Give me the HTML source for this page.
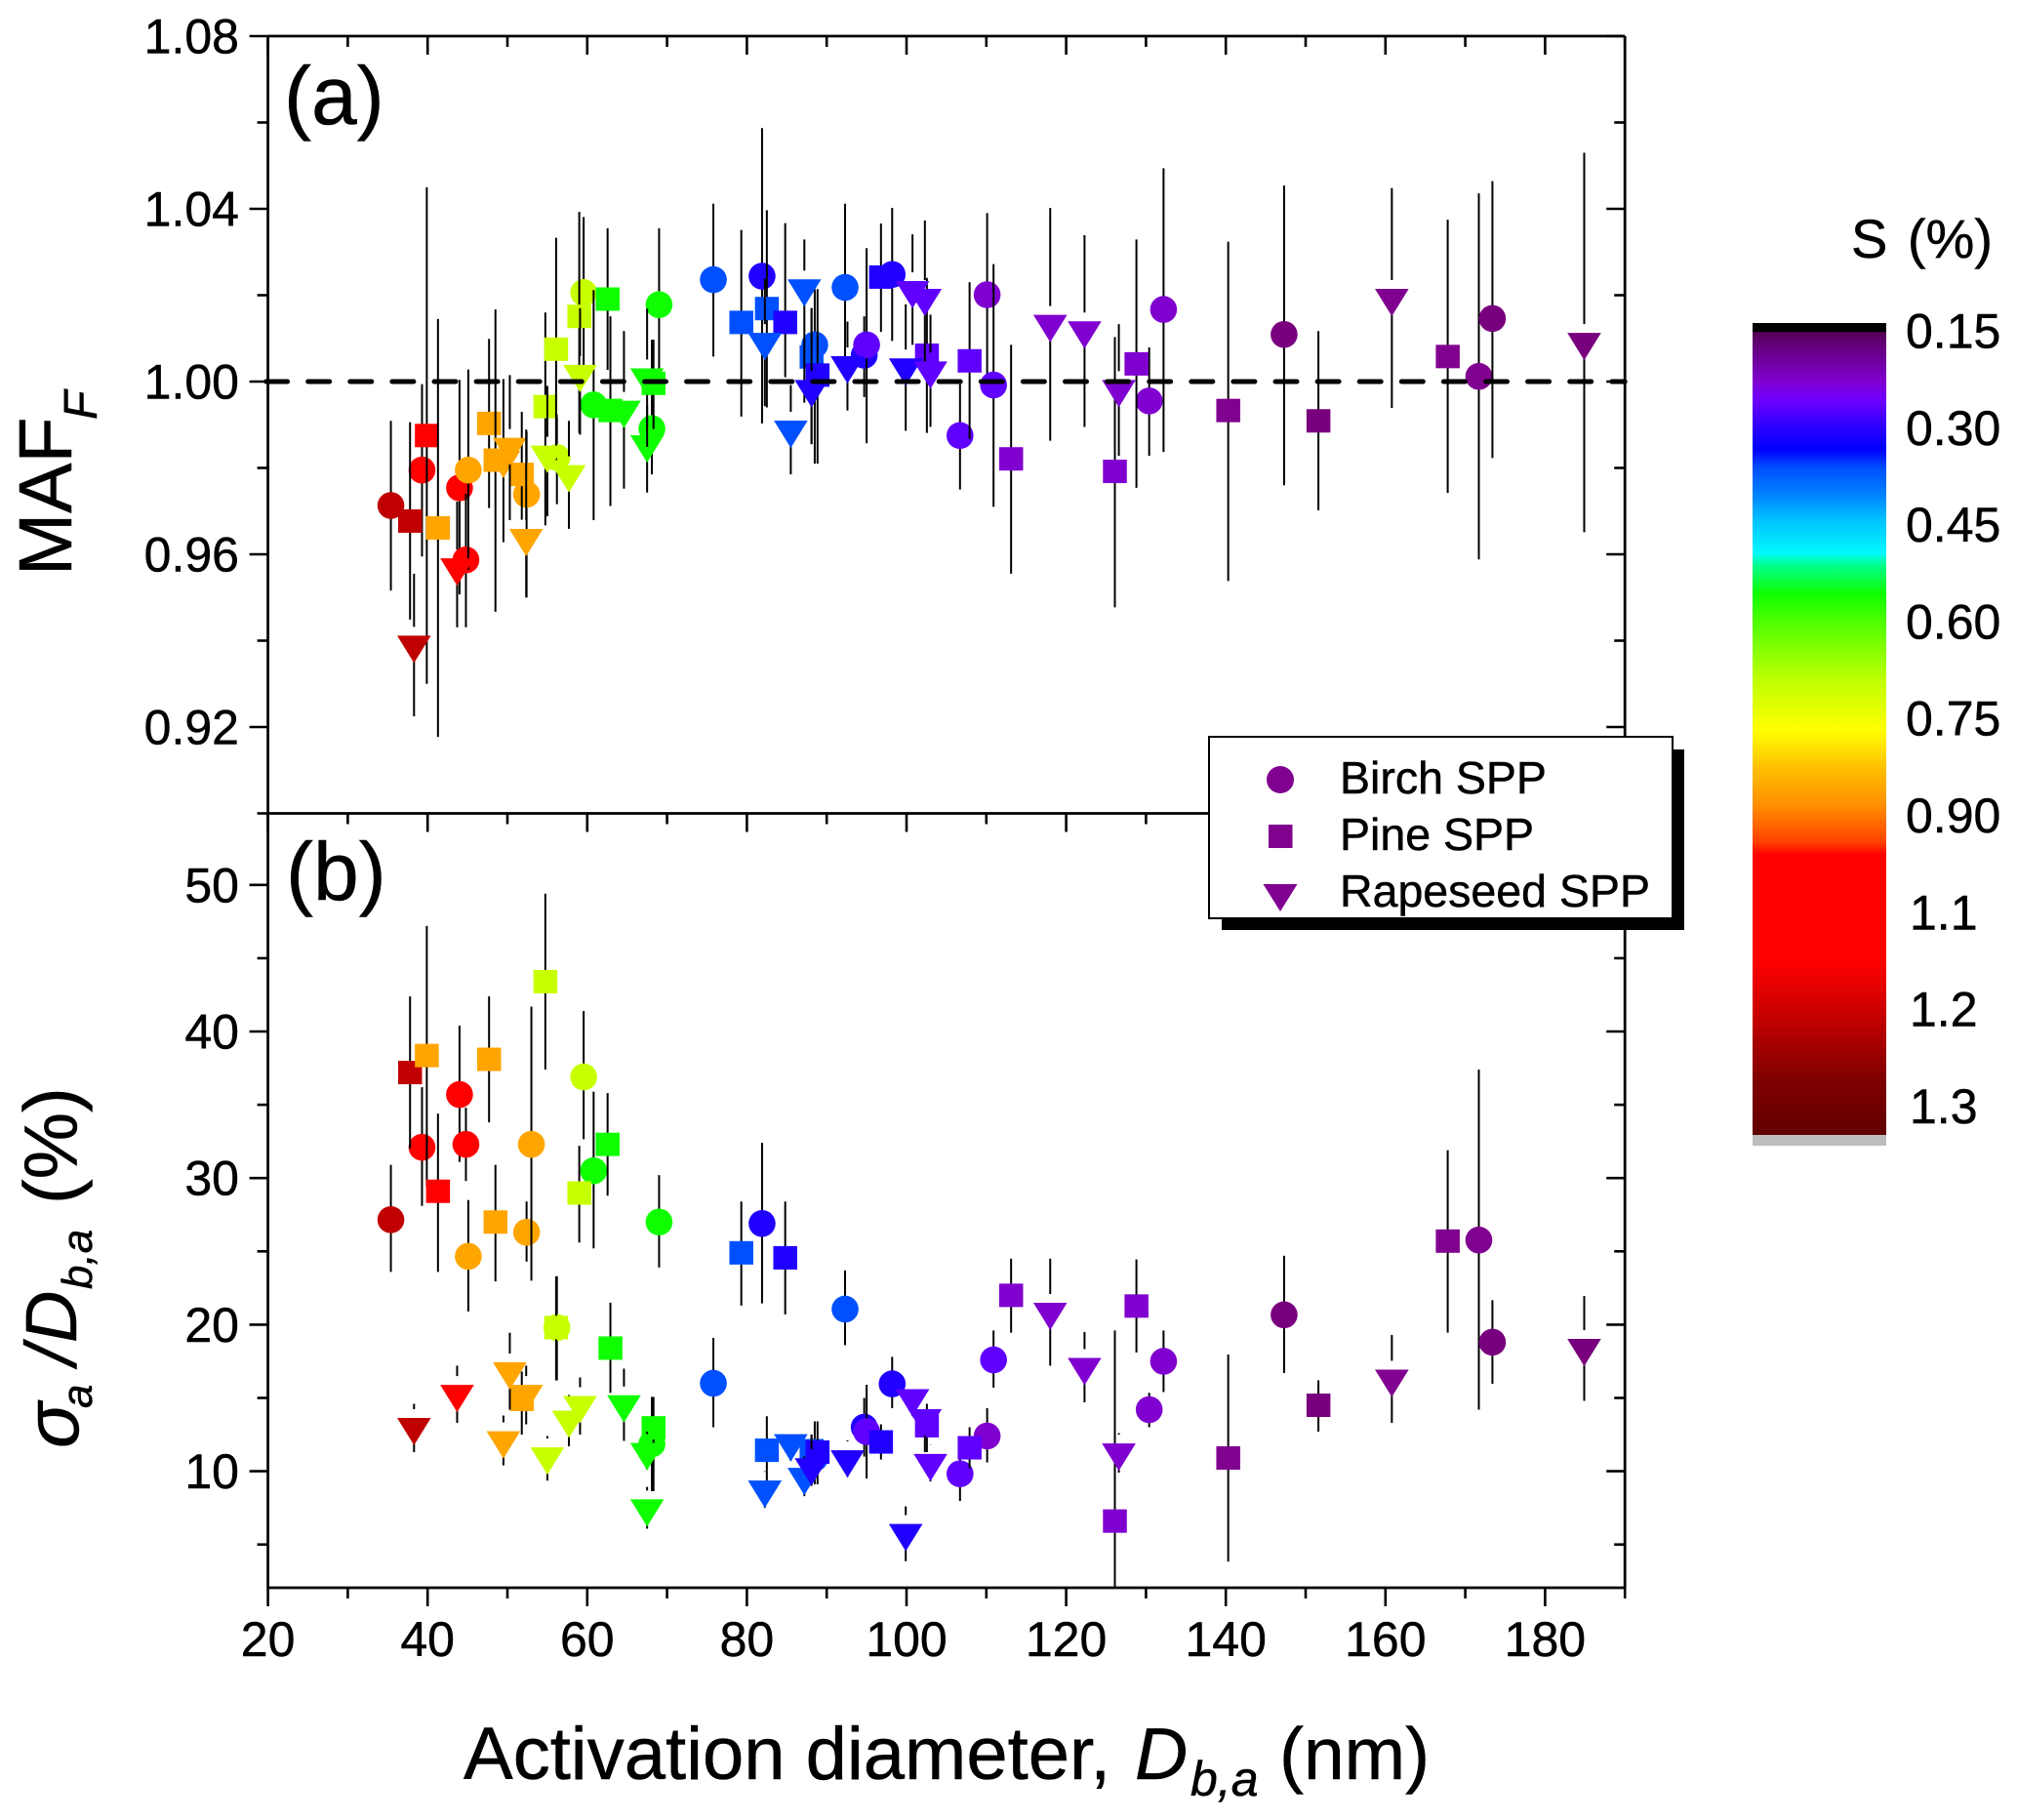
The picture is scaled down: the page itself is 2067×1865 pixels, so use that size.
<!DOCTYPE html>
<html lang="en">
<head>
<meta charset="utf-8">
<title>MAF and activation dispersion vs activation diameter</title>
<style>
html,body{margin:0;padding:0;background:#fff;}
svg{display:block;}
text{font-family:"Liberation Sans",sans-serif;fill:#000;stroke:#000;stroke-width:.5px;}
</style>
</head>
<body>
<svg id="chart" xmlns="http://www.w3.org/2000/svg" width="2067" height="1865" viewBox="0 0 2067 1865">
<defs>
<linearGradient id="cbar" x1="0" y1="0" x2="0" y2="1">
<stop offset="0" stop-color="#500050"/><stop offset=".012" stop-color="#600070"/><stop offset=".062" stop-color="#8000d0"/><stop offset=".085" stop-color="#7000ff"/><stop offset=".116" stop-color="#3000ff"/><stop offset=".147" stop-color="#0000ff"/><stop offset=".17" stop-color="#0050ff"/><stop offset=".202" stop-color="#0080ff"/><stop offset=".233" stop-color="#00c0ff"/><stop offset=".275" stop-color="#00f8ff"/><stop offset=".29" stop-color="#00ff90"/><stop offset=".326" stop-color="#10ff00"/><stop offset=".372" stop-color="#60ff00"/><stop offset=".434" stop-color="#c0ff00"/><stop offset=".496" stop-color="#ffff00"/><stop offset=".543" stop-color="#ffc000"/><stop offset=".589" stop-color="#ff9000"/><stop offset=".636" stop-color="#ff4000"/><stop offset=".651" stop-color="#ff0000"/><stop offset=".783" stop-color="#ff0000"/><stop offset=".86" stop-color="#c00000"/><stop offset=".93" stop-color="#800000"/><stop offset="1" stop-color="#600000"/>
</linearGradient>
</defs>
<g id="marks-a"></g>
<g id="marks-b"></g>
<g id="axes"></g>
<line id="refline" stroke="#000" stroke-width="5" stroke-dasharray="22 21.1" stroke-linecap="round"/>
<text x="291" y="127" font-size="84">(a)</text>
<text x="293" y="922" font-size="84">(b)</text>

<g>
<text transform="translate(73 590) rotate(-90)" font-size="77">MAF</text>
<text transform="translate(99 430) rotate(-90)" font-size="48" font-style="italic">F</text>
</g>
<g>
<text transform="translate(80 1484) rotate(-90)" font-size="78" font-style="italic">σ</text>
<text transform="translate(94 1443) rotate(-90)" font-size="44" font-style="italic">a</text>
<text transform="translate(78 1399) rotate(-90)" font-size="74" font-style="italic">/</text>
<text transform="translate(78 1376) rotate(-90)" font-size="74" font-style="italic">D</text>
<text transform="translate(94 1321) rotate(-90)" font-size="44" font-style="italic">b,a</text>
<text transform="translate(78.5 1234) rotate(-90)" font-size="77">(%)</text>
</g>
<g>
<text x="475" y="1823" font-size="76">Activation diameter,</text>
<text x="1163" y="1823" font-size="75" font-style="italic">D</text>
<text x="1220" y="1840" font-size="50" font-style="italic">b,a</text>
<text x="1311" y="1823" font-size="75">(nm)</text>
</g>

<g>
<rect x="1252" y="768" width="474" height="185" fill="#000"/>
<rect x="1239" y="755" width="475" height="186" fill="#fff" stroke="#000" stroke-width="2"/>
<g>
<circle cx="1312" cy="799" r="14" fill="#800090"/>
<text x="1373" y="813" font-size="46.5">Birch SPP</text>
</g>
<g>
<rect x="1300" y="845" width="24.5" height="24" fill="#800090"/>
<text x="1373" y="871" font-size="46.5">Pine SPP</text>
</g>
<g>
<polygon points="1294.5,906 1329.5,906 1312,934" fill="#800090"/>
<text x="1373" y="929" font-size="46.5">Rapeseed SPP</text>
</g>
</g>

<g>
<text x="1897" y="264" font-size="56" word-spacing="5">S (%)</text>
<rect x="1796" y="331" width="137" height="10" fill="#000"/>
<rect x="1796" y="340" width="137" height="823" fill="url(#cbar)"/>
<rect x="1796" y="1163" width="137" height="11" fill="#bdbdbd"/>
<g id="cbar-labels"></g>
</g>
</svg>

<script>
// ---- Tick labels ----
const xTickLabels = [20, 40, 60, 80, 100, 120, 140, 160, 180];
const xMinorTicks = [30, 50, 70, 90, 110, 130, 150, 170, 190];
const yATickLabels = ['1.08', '1.04', '1.00', '0.96', '0.92'];
const yAMinorTicks = [1.06, 1.02, 0.98, 0.94, 0.90];
const yBTickLabels = [50, 40, 30, 20, 10];
const yBMinorTicks = [45, 35, 25, 15, 5];
const colorbarLabels = ['0.15', '0.30', '0.45', '0.60', '0.75', '0.90', '1.1', '1.2', '1.3'];
const referenceValue = 1.0;

// ---- Panel (a): MAF_F ----
const aBirchX  = [35.4,39.3,44,44.8,45.1,52.4,56.2,59.55,60.8,69,68.1,75.8,81.9,88.5,92.3,94.7,95,98.2,106.7,110.1,110.9,130.4,132.2,147.3,171.7,173.4];
const aBirchY  = [.9713,.9795,.9754,.9587,.9795,.9739,.9824,1.0206,.9946,1.0178,.9891,1.0236,1.0244,1.0085,1.0218,1.0061,1.0085,1.0248,.9875,1.0201,.9992,.9955,1.0167,1.0109,1.0012,1.0146];
const aBirchHi = [.9909,.9994,1.0004,.974,1.0028,.9885,.9924,1.0381,1.0212,1.0355,1.0097,1.0412,1.0587,1.0214,1.0412,1.0151,1.0309,1.0402,.9994,1.039,1.0272,1.0079,1.0494,1.0454,1.0436,1.0464];
const aBirchLo = [.9516,.9595,.9507,.9431,.9564,.95,.9716,1.0024,.9679,1.0,.9785,1.0058,.9903,.981,1.0042,.9964,.9857,1.0094,.975,1.0012,.971,.9828,.9837,.976,.9588,.9823];
const aBirchS  = [1.2,1.1,1.1,1.1,.9,.9,.7,.7,.6,.6,.6,.4,.3,.4,.4,.3,.25,.3,.25,.2,.25,.2,.2,.16,.18,.16];

const aPineX  = [37.8,39.9,41.3,47.7,48.5,51.8,54.75,56.1,59,62.55,62.9,68.3,79.3,82.5,84.8,88.1,88.85,96.8,102.55,107.9,113.1,126.1,128.8,140.3,151.6,167.8];
const aPineY  = [.9677,.9875,.9661,.9903,.9818,.9785,.9942,1.0075,1.0151,1.0191,.9933,.9996,1.0137,1.0169,1.0137,1.0057,1.0015,1.0242,1.0061,1.0048,.9821,.9792,1.0041,.9933,.9909,1.0058];
const aPineHi = [.9906,1.045,1.0145,1.0099,1.0167,.993,1.016,1.0333,1.0393,1.0355,1.0151,1.0097,1.0351,1.0397,1.0367,1.017,1.0214,1.0366,1.024,1.023,1.0085,1.0103,1.0329,1.0324,1.0117,1.0375];
const aPineLo = [.9449,.93,.9177,.9707,.9467,.968,.9667,.9818,.9881,1.0027,.9712,.989,.9919,.994,1.001,.9855,.981,1.0115,.9881,.9867,.9555,.9477,.9754,.9538,.9702,.9742];
const aPineS  = [1.2,1.1,.9,.9,.9,.9,.7,.7,.7,.6,.6,.6,.4,.4,.3,.4,.3,.3,.25,.25,.2,.2,.2,.18,.16,.17];

const aRapeX  = [38.3,43.7,49.5,50.3,52.35,55,57.7,59.1,64.6,67.5,67.5,82.25,87.2,85.5,88.1,92.6,99.9,100.75,102.3,103,118,122.3,126.6,160.8,184.9];
const aRapeY  = [.938,.9559,.9808,.9838,.9627,.982,.9775,1.0007,.9924,.9844,.9999,1.0081,1.0205,.9878,.9972,1.0027,1.0022,1.0201,1.0183,1.0015,1.0123,1.0108,.9972,1.0183,1.0081];
const aRapeHi = [.9555,.9722,1.0006,1.0015,.9889,.999,.9909,1.017,1.0117,.9945,1.0169,1.0238,1.0329,.9992,1.017,1.0139,1.0179,1.0341,1.0373,1.0155,1.0402,1.0339,1.0133,1.0448,1.053];
const aRapeLo = [.9225,.9431,.9628,.9679,.95,.9688,.9659,.9877,.9752,.9743,.9849,.9943,.9951,.9785,.9855,.9933,.9886,1.0085,1.0012,.9895,.9863,.9895,.9828,.9939,.9651];
const aRapeS  = [1.2,1.1,.9,.9,.9,.7,.7,.7,.6,.6,.6,.4,.4,.4,.3,.3,.3,.25,.25,.25,.2,.2,.2,.18,.16];

// ---- Panel (b): sigma/D ----
const bBirchX  = [35.4,39.3,44,44.8,45.1,52.4,53,56.2,59.55,60.8,69,68.1,75.8,81.9,88.5,92.3,94.7,95,98.2,106.7,110.1,110.9,130.4,132.2,147.3,171.7,173.4];
const bBirchY  = [27.16,32.1,35.7,32.3,24.66,26.3,32.3,19.8,36.9,30.5,27,11.86,16,26.9,10.9,21.06,13,12.7,15.96,9.82,12.4,17.6,14.2,17.5,20.67,25.77,18.8];
const bBirchHi = [30.9,36.2,40.4,34.8,28.5,28.4,41.7,23.3,41.4,35.9,30.2,15.07,19.1,32.4,13.4,23.7,15,15.9,17.8,11.8,14.3,19.6,15.35,19.6,24.7,37.4,21.67];
const bBirchLo = [23.6,28.1,31.1,29.8,20.9,24.3,23,16.2,32.65,25.2,23.9,8.64,13,21.45,9.1,18.6,11,9.5,14.3,7.97,10.6,15.7,13,15.4,16.7,14.2,15.96];
const bBirchS  = [1.2,1.1,1.1,1.1,.9,.9,.9,.7,.7,.6,.6,.6,.4,.3,.4,.4,.3,.25,.3,.25,.2,.25,.2,.2,.16,.18,.16];

const bPineX  = [37.8,39.9,41.3,47.7,48.5,51.8,54.75,56.1,59,62.55,62.9,68.3,79.3,82.5,84.8,88.1,88.85,96.8,102.55,107.9,113.1,126.1,128.8,140.3,151.6,167.8];
const bPineY  = [37.2,38.36,29.1,38.1,27,14.9,43.4,19.8,28.98,32.3,18.4,12.96,24.9,11.43,24.56,11.4,11.3,12,13.1,11.6,22,6.6,21.27,10.9,14.5,25.7];
const bPineHi = [42.4,47.2,34.4,42.4,30.9,16.8,49.4,23.3,32.2,35.8,21.5,15.07,28.4,13.75,28.4,12.5,13.4,13.2,14.6,13,24.5,19.6,24.45,17.96,16.2,31.9];
const bPineLo = [32,29.4,23.6,33.8,22.95,12.5,37.4,16.2,25.6,28.8,15.35,8.64,21.3,9.1,20.7,9.1,9.1,10.8,11.3,10.2,19.45,2.05,18.1,3.83,12.7,19.45];
const bPineS  = [1.2,.9,1.1,.9,.9,.9,.7,.7,.7,.6,.6,.6,.4,.4,.3,.4,.3,.3,.25,.25,.2,.2,.2,.18,.16,.17];

const bRapeX  = [38.3,43.7,49.5,50.3,52.35,55,57.7,59.1,64.6,67.5,67.5,82.25,87.2,85.5,88.1,92.6,99.9,100.75,102.3,103,118,122.3,126.6,160.8,184.9];
const bRapeY  = [12.7,14.96,11.8,16.5,14.96,10.7,13.2,14.2,14.25,11,7.15,8.43,9.3,11.6,9.96,10.5,5.47,14.67,13.3,10.25,20.56,16.8,10.96,16,18.1];
const bRapeHi = [14.6,17.2,13.8,19.45,17.2,12.4,15.2,16.4,17,12.7,8.93,10,11,13.1,12.5,12.1,7.6,16.1,14.6,11.8,24.5,19.5,12.6,19.3,21.95];
const bRapeLo = [11.3,13.3,10.4,14.2,13.2,9.36,11.7,12.5,12.07,10.1,6.08,7.5,8.3,10.7,9,9.6,3.86,13.75,11.3,9.3,17.2,14.7,9.9,13.3,14.8];
const bRapeS  = [1.2,1.1,.9,.9,.9,.7,.7,.7,.6,.6,.6,.4,.4,.4,.3,.3,.3,.25,.25,.25,.2,.2,.2,.18,.16];

// ---- Scales ----
const NS = 'http://www.w3.org/2000/svg';
function sx(v) { return 274.6 + (v - 20) * 8.18; }
function ya(v) { return 391 - (v - 1) * 4425; }
function yb(v) { return 1507.6 - (v - 10) * 15.02; }
function sColor(s) {
  if (s >= 1.2) return '#c00000';
  if (s >= 1.1) return '#ff0000';
  if (s >= 0.9) return '#ffa500';
  if (s >= 0.7) return '#c8ff00';
  if (s >= 0.6) return '#10ff00';
  if (s >= 0.4) return '#0050ff';
  if (s >= 0.3) return '#2000ff';
  if (s >= 0.25) return '#6000ff';
  if (s >= 0.2) return '#8000d0';
  if (s >= 0.17) return '#800090';
  return '#78007e';
}
function mk(tag, parent) {
  const el = document.createElementNS(NS, tag);
  parent.appendChild(el);
  return el;
}
function seg(parent, x1, y1, x2, y2, w) {
  const l = mk('line', parent);
  l.setAttribute('x1', x1); l.setAttribute('y1', y1);
  l.setAttribute('x2', x2); l.setAttribute('y2', y2);
  l.setAttribute('stroke', '#000');
  l.setAttribute('stroke-width', w);
  return l;
}

// ---- Marks ----
function drawSeries(parent, shape, xs, ys, his, los, ss, yScale) {
  for (let i = 0; i < xs.length; i++) {
    const cx = sx(xs[i]), cy = yScale(ys[i]), top = yScale(his[i]), bot = yScale(los[i]);
    const startUp = shape === 'triangle' ? cy - 23 : cy;
    if (top < startUp) {
      const up = seg(parent, cx, top, cx, startUp, 2);
      
      
    }
    const down = seg(parent, cx, cy, cx, bot, 2);
    
    
    let m;
    if (shape === 'circle') {
      m = mk('circle', parent);
      m.setAttribute('cx', cx); m.setAttribute('cy', cy); m.setAttribute('r', 13.8);
      
    } else if (shape === 'square') {
      m = mk('rect', parent);
      m.setAttribute('x', cx - 12.2); m.setAttribute('y', cy - 12); m.setAttribute('width', 24.5); m.setAttribute('height', 24);
      
    } else {
      m = mk('polygon', parent);
      m.setAttribute('points', (cx - 17.3) + ',' + (cy - 14) + ' ' + (cx + 17.3) + ',' + (cy - 14) + ' ' + cx + ',' + (cy + 14));
      
    }
    
    m.setAttribute('fill', sColor(ss[i]));
  }
}
const gA = document.getElementById('marks-a');
const gB = document.getElementById('marks-b');
drawSeries(gA, 'circle', aBirchX, aBirchY, aBirchHi, aBirchLo, aBirchS, ya);
drawSeries(gA, 'square', aPineX, aPineY, aPineHi, aPineLo, aPineS, ya);
drawSeries(gA, 'triangle', aRapeX, aRapeY, aRapeHi, aRapeLo, aRapeS, ya);
drawSeries(gB, 'circle', bBirchX, bBirchY, bBirchHi, bBirchLo, bBirchS, yb);
drawSeries(gB, 'square', bPineX, bPineY, bPineHi, bPineLo, bPineS, yb);
drawSeries(gB, 'triangle', bRapeX, bRapeY, bRapeHi, bRapeLo, bRapeS, yb);

// ---- Reference line ----
const ref = document.getElementById('refline');
ref.setAttribute('x1', sx(20) - 2);
ref.setAttribute('x2', sx(190));
ref.setAttribute('y1', ya(referenceValue));
ref.setAttribute('y2', ya(referenceValue));

// ---- Axes ----
const axes = document.getElementById('axes');
const L = sx(20), R = sx(190), T = ya(1.08), M = ya(0.9), B = yb(2.05);
[[L, T, R, T], [L, M, R, M], [L, B, R, B], [L, T, L, B], [R, T, R, B]].forEach(function (c) {
  const a = seg(axes, c[0], c[1], c[2], c[3], 2.8);
  
  
});
function label(txt, x, y, anchor) {
  const t = mk('text', axes);
  t.setAttribute('x', x); t.setAttribute('y', y);
  t.setAttribute('font-size', '50');
  t.setAttribute('text-anchor', anchor);
  t.textContent = txt;
  
  
  return t;
}
function xTicks(values, len, withLabel) {
  values.forEach(function (v) {
    const x = sx(v);
    [seg(axes, x, T, x, T + len, 2.6), seg(axes, x, M, x, M + len, 2.6), seg(axes, x, B, x, B + len, 2.6)].forEach(function (t) {
      
      
    });
    if (withLabel) label(String(v), x, 1697, 'middle');
  });
}
function yTicks(values, scale, len, withLabel) {
  values.forEach(function (v) {
    const y = scale(Number(v));
    [seg(axes, L - len, y, L, y, 2.6), seg(axes, R - len, y, R, y, 2.6)].forEach(function (t) {
      
      
    });
    if (withLabel) label(String(v), 245, y + 17.5, 'end');
  });
}
xTicks(xTickLabels, 19, true);
xTicks(xMinorTicks, 11, false);
yTicks(yATickLabels, ya, 19, true);
yTicks(yAMinorTicks, ya, 11, false);
yTicks(yBTickLabels, yb, 19, true);
yTicks(yBMinorTicks, yb, 11, false);

// ---- Colorbar labels ----
const cbarG = document.getElementById('cbar-labels');
colorbarLabels.forEach(function (txt, i) {
  const t = mk('text', cbarG);
  t.setAttribute('x', txt.length === 3 ? 1957 : 1953);
  t.setAttribute('y', 339 + i * 99.3 + 17.5);
  t.setAttribute('font-size', '50');
  t.textContent = txt;
  
  
});
</script>
</body>
</html>
